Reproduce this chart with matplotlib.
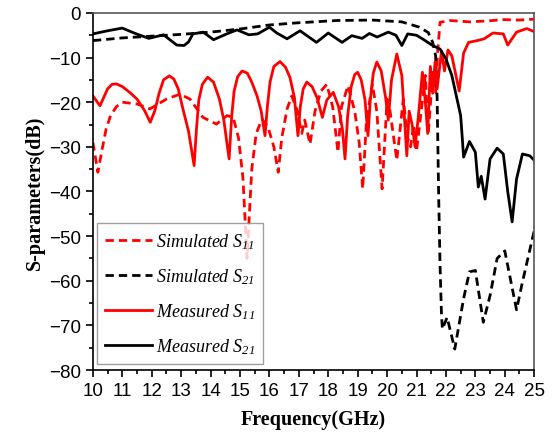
import numpy as np
import matplotlib
matplotlib.use('Agg')
import matplotlib.pyplot as plt
from matplotlib.ticker import MultipleLocator

plt.rcParams['mathtext.fontset'] = 'custom'
plt.rcParams['mathtext.it'] = 'Liberation Serif:italic'
plt.rcParams['mathtext.rm'] = 'Liberation Serif:italic'

# simulated S11 (GHz, dB)
sim_s11_f = [10.0, 10.17, 10.3, 10.45, 10.6, 10.8, 11.0, 11.5, 11.94, 12.5, 12.96, 13.3, 13.74,
             14.2, 14.56, 14.77, 14.95, 15.1, 15.24, 15.4, 15.55, 15.75, 15.95, 16.15, 16.3,
             16.42, 16.6, 16.76, 16.95, 17.1, 17.2, 17.38, 17.55, 17.75, 17.95, 18.15, 18.33,
             18.45, 18.67, 18.9, 19.05, 19.17, 19.3, 19.5, 19.65, 19.83, 20.0, 20.1, 20.33,
             20.55, 20.7, 20.8, 20.9, 21.0, 21.3, 21.4, 21.55, 21.65, 21.72, 21.8, 22.15,
             22.8, 23.4, 23.95, 24.5, 25.0]
sim_s11 = [-29, -35.7, -31, -26, -23, -21, -20, -20.4, -21.5, -19.3, -18.2, -19.3, -23.4,
           -24.9, -23, -23.4, -28, -37, -55, -35, -27, -23.8, -25.5, -30, -35.7,
           -28, -21.5, -18.6, -22, -27, -24, -29.4, -22, -17.5, -16, -21, -31.2,
           -21, -16.3, -22, -29, -39.4, -24, -16, -22, -39.4, -19.3, -22, -33,
           -19.3, -28, -30, -25, -31, -14, -27, -13.3, -17.8, -8.6, -2.1, -1.7,
           -2.0, -1.8, -1.5, -1.6, -1.4]

# simulated S21
sim_s21_f = [10.0, 11.0, 12.0, 13.0, 14.0, 15.0, 16.0, 17.0, 18.3, 19.5, 20.5, 21.1, 21.4,
             21.55, 21.65, 21.7, 21.75, 21.8, 21.85, 21.88, 22.04, 22.3, 22.6, 22.8, 23.0,
             23.27, 23.5, 23.74, 24.0, 24.4, 24.6, 25.0]
sim_s21 = [-6.2, -5.6, -5.2, -4.8, -4.3, -3.6, -2.7, -2.2, -1.7, -1.6, -2.0, -3.2, -4.4,
           -6.6, -9.6, -19, -40, -56.6, -67.8, -70.8, -68.2, -75.3, -64, -58, -57.7,
           -69.3, -63.3, -55, -53.3, -66.5, -60.3, -48.8]

# measured S11
meas_s11_f = [10.0, 10.24, 10.5, 10.65, 10.8, 11.0, 11.25, 11.5, 11.75, 11.95, 12.1, 12.25,
              12.4, 12.6, 12.75, 12.9, 13.06, 13.25, 13.44, 13.52, 13.6, 13.72, 13.9, 14.1,
              14.3, 14.45, 14.63, 14.72, 14.8, 14.92, 15.07, 15.25, 15.4, 15.58, 15.72, 15.85,
              15.93, 16.02, 16.15, 16.36, 16.55, 16.7, 16.85, 16.97, 17.05, 17.15, 17.27, 17.45,
              17.62, 17.8, 17.95, 18.17, 18.35, 18.48, 18.57, 18.66, 18.78, 18.9, 19.0, 19.12,
              19.25, 19.35, 19.43, 19.53, 19.65, 19.8, 19.95, 20.04, 20.15, 20.33, 20.5, 20.67,
              20.75, 20.85, 20.95, 21.05, 21.2, 21.3, 21.38, 21.47, 21.55, 21.63, 21.7, 21.85,
              21.95, 22.07, 22.2, 22.45, 22.6, 22.77, 23.06, 23.3, 23.6, 23.95, 24.1, 24.4,
              24.75, 25.0]
meas_s11 = [-18.6, -20.8, -17.0, -16.0, -15.9, -16.5, -17.8, -19.3, -21.8, -24.5, -22, -18,
            -15, -14.1, -14.8, -17, -21.5, -26.5, -34.2, -26, -19.5, -16, -14.4, -15.5,
            -19.3, -24, -32.7, -23, -17.5, -14.3, -13, -13.5, -15.5, -18.6, -22, -27.5,
            -21, -15.5, -12, -10.9, -12.2, -14.5, -19, -27.5, -21, -17, -15.5, -16.5,
            -19, -23.4, -19.5, -17.8, -21, -26, -32.7, -23, -16.5, -13.8, -13.3, -15,
            -19.5, -27.5, -19.5, -13.5, -11, -13, -19, -24, -15, -9.2, -14, -32,
            -22, -25, -30, -24, -13.3, -20, -27, -12, -18, -11, -17, -8.5,
            -13, -8.3, -9.6, -17.5, -9, -6.6, -6.2, -5.8, -4.5, -4.7, -7.2, -4.3,
            -3.5, -4.2]

# measured S21
meas_s21_f = [10.0, 10.5, 11.0, 11.4, 11.9, 12.4, 12.85, 13.1, 13.25, 13.4, 13.75, 14.1,
              14.55, 14.9, 15.3, 15.6, 16.0, 16.25, 16.6, 17.04, 17.6, 18.0, 18.47, 18.8,
              19.15, 19.4, 19.66, 20.04, 20.3, 20.5, 20.7, 21.0, 21.2, 21.55, 21.8, 22.0,
              22.2, 22.4, 22.5, 22.55, 22.6, 22.8, 23.0, 23.1, 23.2, 23.33, 23.5, 23.74,
              23.95, 24.1, 24.25, 24.4, 24.6, 24.85, 25.0]
meas_s21 = [-4.7, -4, -3.4, -4.5, -5.7, -4.9, -7.2, -7.3, -6.5, -4.7, -4.3, -6,
            -4.7, -3.8, -4.9, -4.7, -3.2, -4.5, -5.8, -4, -6.6, -4.5, -6.6, -5.1,
            -5.7, -4.6, -5.4, -4.3, -5, -7.3, -4.7, -5, -5.8, -7.3, -8.1, -10.3,
            -14, -20, -23, -27.5, -32.3, -28.8, -31.2, -39, -36.6, -41.7, -32.7, -30.3,
            -31.6, -40, -46.8, -37.2, -31.6, -32, -33]

fig = plt.figure(figsize=(5.53, 4.35), dpi=100)
ax = fig.add_axes([0.168, 0.147, 0.798, 0.821])

lw = 2.0
ax.plot(sim_s11_f, sim_s11, color='red', ls=(0, (3, 1.8)), lw=lw, label='Simulated $S_{11}$')
ax.plot(sim_s21_f, sim_s21, color='black', ls=(0, (3, 1.8)), lw=lw, label='Simulated $S_{21}$')
ax.plot(meas_s11_f, meas_s11, color='red', lw=lw, label='Measured $S_{11}$')
ax.plot(meas_s21_f, meas_s21, color='black', lw=lw, label='Measured $S_{21}$')

ax.set_xlim(10, 25)
ax.set_ylim(-80, 0)
ax.xaxis.set_major_locator(MultipleLocator(1))
ax.xaxis.set_minor_locator(MultipleLocator(0.5))
ax.yaxis.set_major_locator(MultipleLocator(10))
ax.yaxis.set_minor_locator(MultipleLocator(5))
ax.tick_params(which='both', direction='out', top=False, right=False)
ax.tick_params(which='major', length=5, width=1.2, labelsize=13.5)
ax.tick_params(which='minor', length=3, width=1.2)
for lab in ax.get_xticklabels() + ax.get_yticklabels():
    lab.set_family('Liberation Sans')
for s in ax.spines.values():
    s.set_linewidth(1.2)
ax.spines['top'].set_color('#555555')
ax.spines['right'].set_color('#555555')

ax.set_xlabel('Frequency(GHz)', family='Liberation Serif', weight='bold', fontsize=14.5, labelpad=7)
ax.set_ylabel('S-parameters(dB)', family='Liberation Serif', weight='bold', fontsize=14.5, labelpad=3)

leg = ax.legend(loc='lower left', bbox_to_anchor=(0.009, 0.017), borderaxespad=0,
                prop={'family': 'Liberation Serif', 'style': 'italic', 'size': 13},
                fancybox=False, handlelength=2.6, handletextpad=0.2, labelspacing=0.85,
                borderpad=0.45)
leg.get_frame().set_edgecolor('#888888')
leg.get_frame().set_linewidth(1.0)

fig.savefig('out.png', dpi=100)
